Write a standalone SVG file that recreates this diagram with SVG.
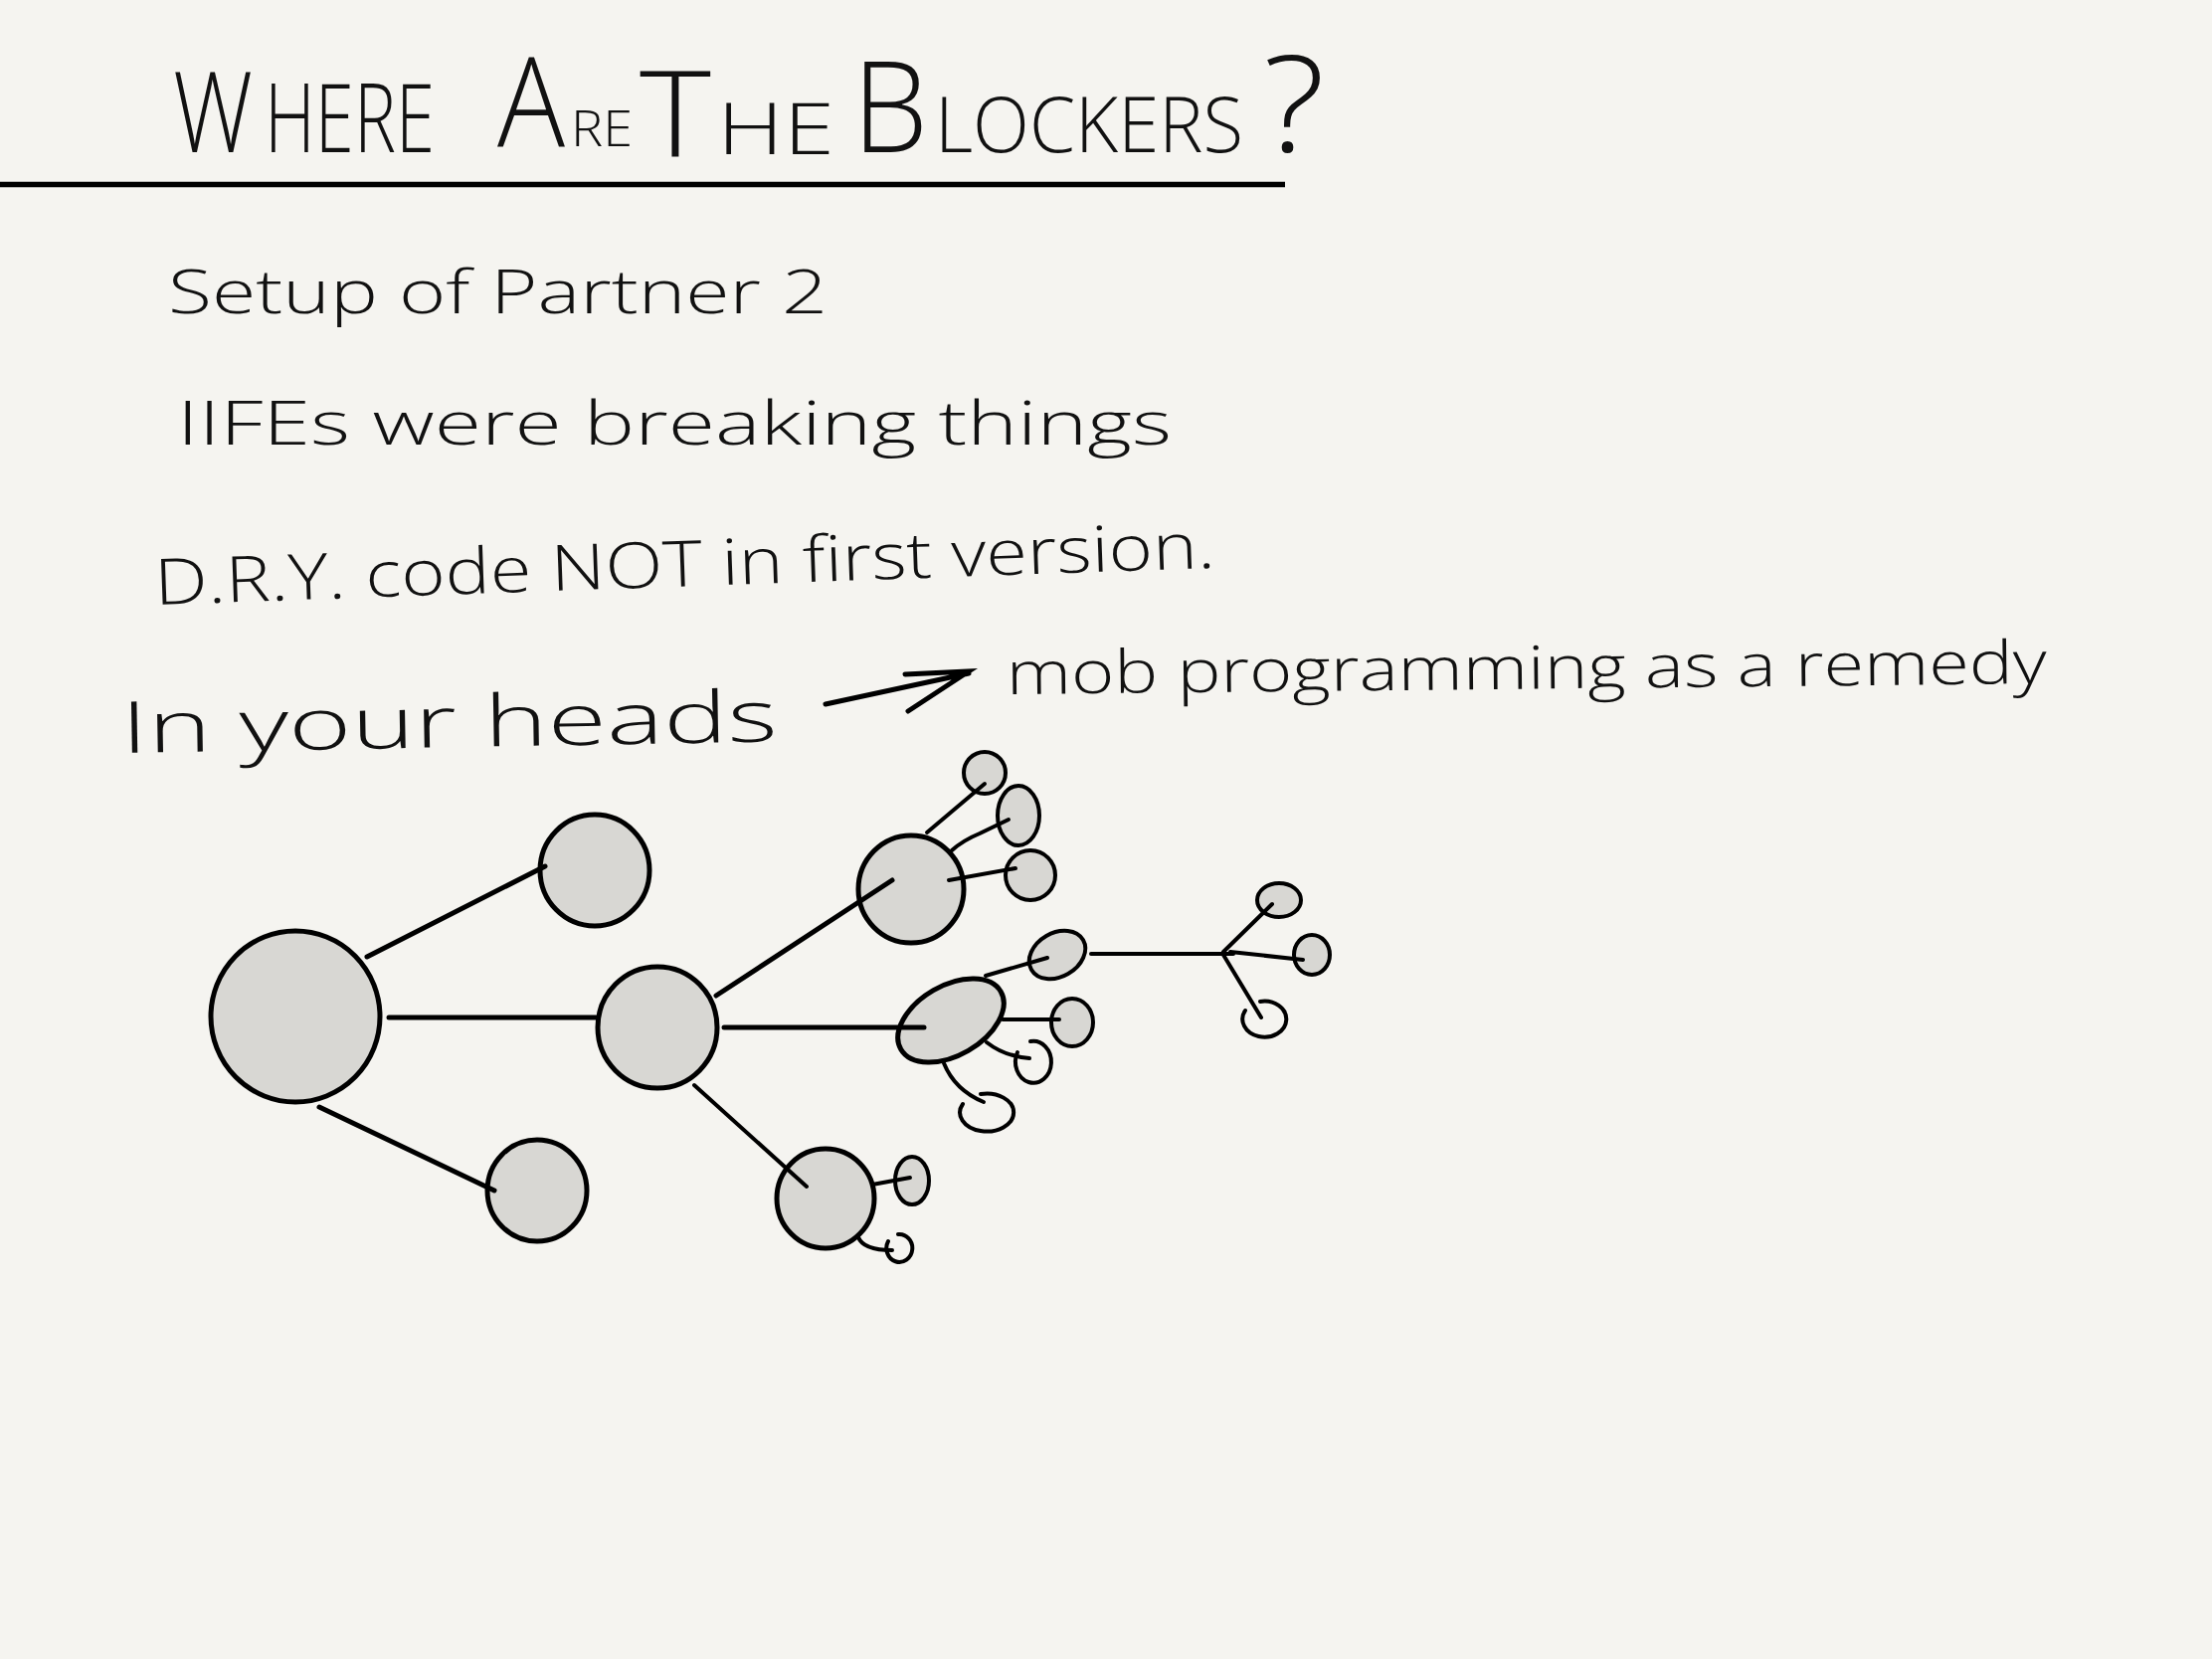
<svg xmlns="http://www.w3.org/2000/svg" width="2224" height="1668" viewBox="0 0 2224 1668">
<style>
.hw{font-family:"Open Sans","Liberation Sans",sans-serif;font-weight:300;fill:#111}
.n{fill:#d8d7d3;stroke:#000;stroke-width:5}
.s{fill:#d8d7d3;stroke:#000;stroke-width:4}
.o{fill:none;stroke:#000;stroke-width:4;stroke-linecap:round}
.c{fill:none;stroke:#000;stroke-width:5;stroke-linecap:round}
.c2{fill:none;stroke:#000;stroke-width:4;stroke-linecap:round;stroke-linejoin:round}
</style>
<rect width="2224" height="1668" fill="#f5f4f0"/>
<g id="title">
<text class="hw" x="174" y="153" font-size="112" textLength="80" lengthAdjust="spacingAndGlyphs">W</text>
<text class="hw" x="266" y="153" font-size="95" textLength="171" lengthAdjust="spacingAndGlyphs">HERE</text>
<text class="hw" x="500" y="148" font-size="126" textLength="68" lengthAdjust="spacingAndGlyphs">A</text>
<text class="hw" x="574" y="147" font-size="50" textLength="62" lengthAdjust="spacingAndGlyphs">RE</text>
<text class="hw" x="643" y="157" font-size="119" textLength="72" lengthAdjust="spacingAndGlyphs">T</text>
<text class="hw" x="721" y="155" font-size="72" textLength="118" lengthAdjust="spacingAndGlyphs">HE</text>
<text class="hw" x="857" y="153" font-size="127" textLength="76" lengthAdjust="spacingAndGlyphs">B</text>
<text class="hw" x="940" y="153" font-size="78" textLength="310" lengthAdjust="spacingAndGlyphs">LOCKERS</text>
<text class="hw" x="1270" y="153" font-size="135" textLength="62" lengthAdjust="spacingAndGlyphs">?</text>
<line x1="0" y1="185.5" x2="1292" y2="185.5" stroke="#000" stroke-width="5.5"/>
</g>
<g id="items">
<text class="hw" x="169" y="315" font-size="60" textLength="663" lengthAdjust="spacingAndGlyphs">Setup of Partner 2</text>
<text class="hw" x="178" y="447" font-size="60" textLength="1000" lengthAdjust="spacingAndGlyphs">IIFEs were breaking things</text>
<text class="hw" x="156" y="608" font-size="64" textLength="1067" lengthAdjust="spacingAndGlyphs" transform="rotate(-2 156 608)">D.R.Y. code NOT in first version.</text>
<text class="hw" x="122" y="757" font-size="72" textLength="660" lengthAdjust="spacingAndGlyphs" transform="rotate(-1 122 757)">In your heads</text>
<path class="c" d="M830,708 L974,677 M910,678 L974,675 L913,715"/>
<text class="hw" x="1012" y="698" font-size="60" textLength="1046" lengthAdjust="spacingAndGlyphs" transform="rotate(-0.6 1012 698)">mob programming as a remedy</text>
</g>
<g id="node-A"><ellipse class="n" cx="297" cy="1022" rx="85" ry="86"/></g>
<g id="node-B"><ellipse class="n" cx="598" cy="875" rx="55" ry="56"/></g>
<g id="node-C"><ellipse class="n" cx="540" cy="1197" rx="50" ry="51"/></g>
<g id="node-D"><ellipse class="n" cx="661" cy="1033" rx="60" ry="61"/></g>
<g id="node-E"><ellipse class="n" cx="916" cy="894" rx="53" ry="54"/></g>
<g id="node-F"><ellipse class="n" cx="956" cy="1026" rx="58" ry="35" transform="rotate(-30 956 1026)"/></g>
<g id="node-G"><ellipse class="n" cx="830" cy="1205" rx="49" ry="50"/></g>
<g id="node-E1"><ellipse class="s" cx="990" cy="777" rx="21" ry="21"/></g>
<g id="node-E2"><ellipse class="s" cx="1024" cy="820" rx="21" ry="30"/></g>
<g id="node-E3"><ellipse class="s" cx="1036" cy="880" rx="25" ry="25"/></g>
<g id="node-F1"><ellipse class="s" cx="1063" cy="960" rx="30" ry="22" transform="rotate(-30 1063 960)"/></g>
<g id="node-F2"><ellipse class="s" cx="1078" cy="1028" rx="21" ry="24"/></g>
<g id="node-H1"><ellipse class="s" cx="1286" cy="905" rx="22" ry="17"/></g>
<g id="node-H2"><ellipse class="s" cx="1319" cy="960" rx="18" ry="20"/></g>
<g id="node-H3"><path class="o" d="M1267,1007 A22,18 0 1 1 1252,1016"/></g>
<g id="node-F3"><path class="o" d="M1036,1047 A18,21 0 1 1 1023,1058"/></g>
<g id="node-F4"><path class="o" d="M986,1100 A27,19 0 1 1 968,1110"/></g>
<g id="node-G1"><ellipse class="s" cx="917" cy="1187" rx="17" ry="24"/></g>
<g id="node-G2"><path class="o" d="M903,1241 A13,14 0 1 1 893,1248"/></g>
<g id="connectors">
<line class="c" x1="369" y1="962" x2="548" y2="871"/>
<line class="c" x1="391" y1="1023" x2="599" y2="1023"/>
<line class="c" x1="321" y1="1113" x2="497" y2="1197"/>
<line class="c" x1="720" y1="1001" x2="897" y2="885"/>
<line class="c" x1="728" y1="1033" x2="929" y2="1033"/>
<line class="c2" x1="698" y1="1091" x2="811" y2="1193"/>
<line class="c2" x1="932" y1="837" x2="990" y2="788"/>
<path class="c2" d="M957,855 Q968,845 985,838 L1014,824"/>
<line class="c2" x1="954" y1="885" x2="1021" y2="873"/>
<line class="c2" x1="991" y1="981" x2="1053" y2="963"/>
<line class="c2" x1="1097" y1="959" x2="1240" y2="959"/>
<line class="c2" x1="1230" y1="957" x2="1279" y2="909"/>
<line class="c2" x1="1237" y1="957" x2="1310" y2="965"/>
<line class="c2" x1="1230" y1="960" x2="1268" y2="1023"/>
<line class="c2" x1="1008" y1="1025" x2="1065" y2="1025"/>
<path class="c2" d="M992,1048 Q1010,1062 1035,1064"/>
<path class="c2" d="M949,1069 Q960,1096 989,1108"/>
<line class="c2" x1="877" y1="1191" x2="915" y2="1184"/>
<path class="c2" d="M863,1244 Q868,1257 897,1257"/>
</g>
</svg>
